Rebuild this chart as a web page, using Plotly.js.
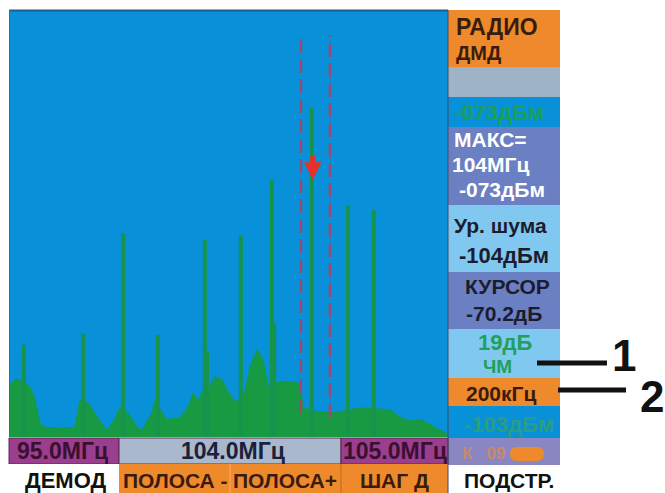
<!DOCTYPE html>
<html><head><meta charset="utf-8">
<script src="https://cdn.plot.ly/plotly-3.0.1.min.js"></script>
<style>html,body{margin:0;padding:0;background:#fff;overflow:hidden}#chart{width:665px;height:493px;}</style>
</head><body><div id="chart"></div>
<script>
// ---- data (MHz, dBm) ----
const freqRange = [95, 105];
const levelRange = [-107, -63];
const floorFreq = [95.00,95.14,95.25,95.43,95.52,95.59,95.71,95.82,96.16,96.50,96.62,96.80,97.00,97.23,97.41,97.53,97.71,97.92,98.03,98.26,98.33,98.49,98.60,98.90,99.08,99.19,99.31,99.51,99.58,99.69,99.85,99.97,100.08,100.19,100.38,100.49,100.65,100.79,100.90,101.13,101.40,101.63,101.70,101.86,102.08,102.43,102.77,103.00,103.34,103.68,103.91,104.13,104.36,104.59,104.82,105.00];
const floorLevel = [-101.8,-101.1,-101.1,-101.6,-102.2,-103.2,-105.6,-106.0,-106.1,-106.0,-103.2,-103.5,-104.9,-106.3,-105.2,-103.9,-104.5,-106.0,-106.3,-104.5,-103.2,-104.5,-105.2,-105.0,-103.9,-102.5,-103.2,-101.5,-101.8,-100.8,-101.1,-102.2,-102.9,-103.5,-102.2,-99.8,-98.0,-99.1,-101.8,-101.3,-101.3,-101.5,-103.9,-104.3,-104.4,-104.5,-104.2,-104.0,-104.1,-104.2,-105.0,-105.3,-105.2,-105.7,-106.3,-106.7];
const peakFreq  = [95.34, 96.69, 97.60, 98.39, 99.46, 99.51, 100.28, 100.99, 101.04, 101.90, 102.72, 103.31];
const peakLevel = [-97.5, -96.4, -86.0, -96.5, -86.7, -98.2, -86.2, -80.5, -95.3, -73.1, -83.1, -83.6];
const cursorBand = [101.65, 102.31];
const cursorFreq = 101.92;
const cursorLevel = -80.5;
const freqLabels = ['95.0МГц', '104.0МГц', '105.0МГц'];
const softKeys = ['ДЕМОД', 'ПОЛОСА -', 'ПОЛОСА+', 'ШАГ Д', 'ПОДСТР.'];
const sideLabels = ['РАДИО', 'ДМД', '-073дБм', 'МАКС=', '104МГц', '-073дБм', 'Ур. шума', '-104дБм', 'КУРСОР', '-70.2дБ', '19дБ', 'ЧМ', '200кГц', '-103дБм', 'К\u00a0\u00a0\u00a009'];
const calloutLabels = ['1', '2'];

// ---- helpers ----
const W = 665, H = 493;
const X = px => px / W;
const Y = py => 1 - py / H;
const FONT = '"Liberation Sans", Arial, sans-serif';
const BLUE = '#0890d8', GREEN = '#179a42', ORANGE = '#ee8a2b', SLATE = '#6b80c2', LBLUE = '#80c8f0';

function rect(x0, y0, x1, y1, fill, lc) {
  return {type: 'rect', xref: 'paper', yref: 'paper', x0: X(x0), x1: X(x1), y0: Y(y1), y1: Y(y0),
    fillcolor: fill, line: {width: lc ? 1 : 0, color: lc || fill}};
}
function seg(x0, y0, x1, y1, color, w) {
  return {type: 'line', xref: 'paper', yref: 'paper', x0: X(x0), x1: X(x1), y0: Y(y0), y1: Y(y1),
    line: {color: color, width: w}};
}
function pill(x0, y0, x1, y1, fill) {
  const r = (y1 - y0) / 2;
  const p = (a, b) => X(a) + ',' + Y(b);
  const d = 'M' + p(x0 + r, y0) + ' L' + p(x1 - r, y0) + ' Q' + p(x1, y0) + ' ' + p(x1, y0 + r) +
            ' Q' + p(x1, y1) + ' ' + p(x1 - r, y1) + ' L' + p(x0 + r, y1) + ' Q' + p(x0, y1) + ' ' + p(x0, y0 + r) +
            ' Q' + p(x0, y0) + ' ' + p(x0 + r, y0) + ' Z';
  return {type: 'path', xref: 'paper', yref: 'paper', path: d, fillcolor: fill, line: {width: 0}};
}
function txt(text, px, py, size, color, anchor) {
  return {text: '<b>' + text + '</b>', xref: 'paper', yref: 'paper', x: X(px), y: Y(py),
    xanchor: anchor || 'left', yanchor: 'middle', showarrow: false, borderpad: 0,
    font: {family: FONT, size: size, color: color}};
}

// ---- traces ----
const px = [], py = [];
peakFreq.forEach((f, i) => { px.push(f, f, null); py.push(levelRange[0], peakLevel[i], null); });

const traces = [
  {x: freqRange, y: [levelRange[0], levelRange[0]], mode: 'lines', line: {width: 0}, hoverinfo: 'skip', showlegend: false},
  {x: floorFreq, y: floorLevel, mode: 'lines', fill: 'tonexty', fillcolor: GREEN, line: {color: GREEN, width: 1}, hoverinfo: 'skip', showlegend: false},
  {x: px, y: py, mode: 'lines', line: {color: '#16944c', width: 4}, hoverinfo: 'skip', showlegend: false}
];

// ---- layout pieces ----
const shapes = [
  {type: 'line', xref: 'x', yref: 'paper', x0: cursorBand[0], x1: cursorBand[0], y0: Y(413), y1: Y(35), line: {color: '#9c4872', width: 2.5, dash: '14px,6px'}},
  {type: 'line', xref: 'x', yref: 'paper', x0: cursorBand[1], x1: cursorBand[1], y0: Y(417), y1: Y(35), line: {color: '#9c4872', width: 2.5, dash: '14px,6px'}},
  seg(9, 10.5, 448, 10.5, '#1b5f8f', 2),
  seg(9.5, 10, 9.5, 437, '#2a6f9f', 1),
  rect(448, 10, 560, 67, ORANGE),
  rect(448, 67, 560, 97, '#9fb3c6'),
  rect(448, 97, 560, 127, BLUE),
  rect(448, 127, 560, 205, SLATE),
  rect(448, 205, 560, 272, LBLUE),
  rect(448, 272, 560, 329, SLATE),
  rect(448, 329, 560, 378, LBLUE),
  rect(448, 378, 560, 406, ORANGE),
  rect(448, 406, 560, 438, BLUE),
  rect(448, 438, 560, 465, '#8a86c2'),
  rect(448, 465, 560, 493, '#ffffff'),
  pill(510, 447, 544, 461, ORANGE),
  rect(9, 438, 119, 464, '#9c3e8e', '#5a2a52'),
  rect(119, 438, 341, 464, '#a9b8cc', '#5a2a52'),
  rect(341, 438, 448, 464, '#9c3e8e', '#5a2a52'),
  rect(9, 464, 119, 493, '#ffffff'),
  rect(119, 464, 230, 493, ORANGE),
  rect(230, 464, 341, 493, ORANGE),
  rect(341, 464, 448, 493, ORANGE),
  seg(230, 464, 230, 493, '#f4b070', 1),
  seg(341, 464, 341, 493, '#c06a20', 1),
  seg(448, 10, 448, 493, '#404a6a', 1),
  seg(537, 363, 607, 363, '#111111', 5),
  seg(558, 390, 626, 390, '#111111', 5)
];

const DARK = '#3a1c0e', INK = '#1c1c2e', GTXT = '#1aa058';
const annotations = [
  txt(sideLabels[0], 455, 27, 23, DARK),
  txt(sideLabels[1], 455, 53, 20, DARK),
  txt(sideLabels[2], 453, 112, 22, GTXT),
  txt(sideLabels[3], 453, 140, 21, '#ffffff'),
  txt(sideLabels[4], 451, 164, 21, '#ffffff'),
  txt(sideLabels[5], 458, 189, 21, '#ffffff'),
  txt(sideLabels[6], 453, 225, 21, INK),
  txt(sideLabels[7], 458, 255, 22, INK),
  txt(sideLabels[8], 507, 286, 21, INK, 'center'),
  txt(sideLabels[9], 465, 313, 21, INK),
  txt(sideLabels[10], 505, 342, 22, '#20a05c', 'center'),
  txt(sideLabels[11], 497, 366, 19, '#20a05c', 'center'),
  txt(sideLabels[12], 465, 393, 21, DARK),
  txt(sideLabels[13], 463, 424, 22, '#2c9e80'),
  txt(sideLabels[14], 461, 453, 17, '#c98a6a'),
  txt(freqLabels[0], 62, 451, 23, '#3a1030', 'center'),
  txt(freqLabels[1], 233, 451, 23, '#1c2038', 'center'),
  txt(freqLabels[2], 395, 451, 23, '#3a1030', 'center'),
  txt(softKeys[0], 65, 480, 22, '#111111', 'center'),
  txt(softKeys[1], 175, 480, 21, DARK, 'center'),
  txt(softKeys[2], 285, 480, 21, DARK, 'center'),
  txt(softKeys[3], 394, 480, 21, DARK, 'center'),
  txt(softKeys[4], 509, 480, 21, '#111111', 'center'),
  txt(calloutLabels[0], 624, 355, 44, '#111111', 'center'),
  txt(calloutLabels[1], 652, 396, 44, '#111111', 'center'),
  {x: cursorFreq, y: cursorLevel, xref: 'x', yref: 'y', ax: 0, ay: -26, text: '', showarrow: true,
   arrowhead: 2, arrowwidth: 5, arrowsize: 0.7, arrowcolor: '#e8302a'}
];

const layout = {
  width: W, height: H,
  margin: {l: 0, r: 0, t: 0, b: 0},
  paper_bgcolor: '#ffffff',
  plot_bgcolor: BLUE,
  showlegend: false,
  xaxis: {domain: [X(9), X(448)], range: freqRange, visible: false, fixedrange: true},
  yaxis: {domain: [Y(437), Y(10)], range: levelRange, visible: false, fixedrange: true},
  shapes: shapes,
  annotations: annotations
};

Plotly.newPlot('chart', traces, layout, {staticPlot: true, displayModeBar: false});
</script>
</body></html>
